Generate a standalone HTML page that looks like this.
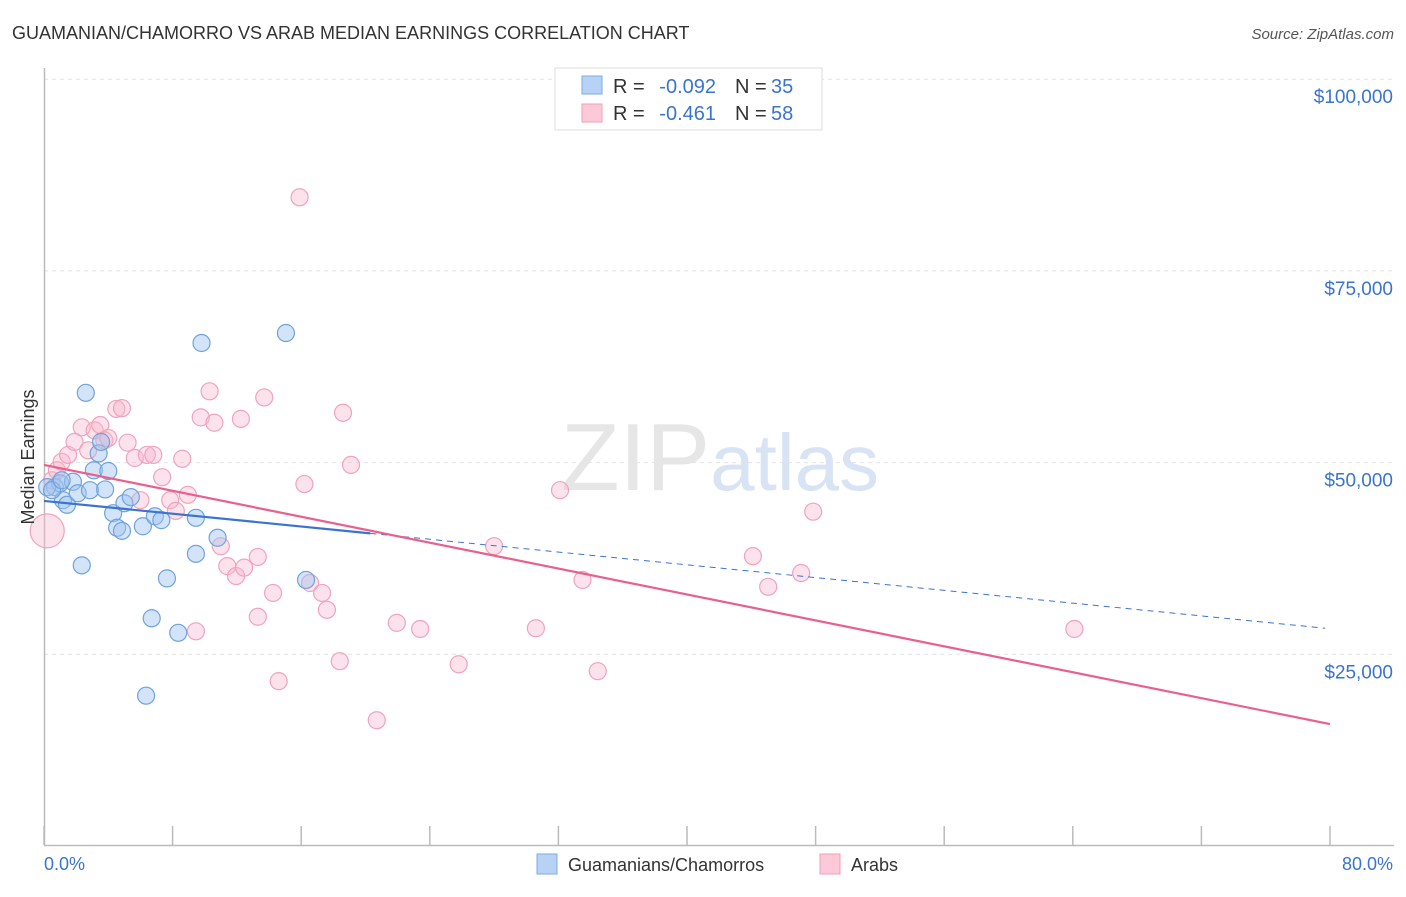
<!DOCTYPE html>
<html><head><meta charset="utf-8"><style>
body{margin:0;background:#fff;font-family:"Liberation Sans",sans-serif;}
svg text{font-family:"Liberation Sans",sans-serif;}
</style></head><body>
<svg id="chart" width="1406" height="892" viewBox="0 0 1406 892" xmlns="http://www.w3.org/2000/svg">
<text x="12" y="39" font-size="18" fill="#333">GUAMANIAN/CHAMORRO VS ARAB MEDIAN EARNINGS CORRELATION CHART</text>
<text x="1394" y="39" font-size="15" fill="#555" text-anchor="end" font-style="italic">Source: ZipAtlas.com</text>
<g id="grid"></g>
<text x="720" y="490" font-size="96" text-anchor="middle" fill="#e6e6e6" font-family="Liberation Serif">ZIP<tspan fill="#d8e4f4" font-family="Liberation Sans" font-size="80">atlas</tspan></text>
<line x1="44.5" y1="68" x2="44.5" y2="845" stroke="#bbb" stroke-width="1.5"/>
<line x1="44" y1="845.5" x2="1394" y2="845.5" stroke="#bbb" stroke-width="1.5"/>
<g id="ticks"></g>
<g id="marks"></g>
<text transform="translate(34,457) rotate(-90)" font-size="18" fill="#333" text-anchor="middle">Median Earnings</text>
<text x="44" y="870" font-size="18" fill="#3a74d0">0.0%</text>
<text x="1393" y="870" font-size="18" fill="#3a74d0" text-anchor="end">80.0%</text>
<g>
<rect x="555" y="68" width="267" height="62" fill="#fff" stroke="#ddd"/>
<rect x="582" y="76" width="20" height="18" fill="#b7d2f4" stroke="#7aaee0"/>
<rect x="582" y="104" width="20" height="18" fill="#fbc9d8" stroke="#f0a0b8"/>
<text x="613" y="93" font-size="20" fill="#333">R =</text>
<text x="716" y="93" font-size="20" fill="#3a74d0" text-anchor="end">-0.092</text>
<text x="735" y="93" font-size="20" fill="#333">N =</text>
<text x="771" y="93" font-size="20" fill="#3a74d0">35</text>
<text x="613" y="120" font-size="20" fill="#333">R =</text>
<text x="716" y="120" font-size="20" fill="#3a74d0" text-anchor="end">-0.461</text>
<text x="735" y="120" font-size="20" fill="#333">N =</text>
<text x="771" y="120" font-size="20" fill="#3a74d0">58</text>
</g>
<g>
<rect x="537" y="854" width="20" height="20" fill="#b7d2f4" stroke="#7aaee0"/>
<text x="568" y="871" font-size="18" fill="#333">Guamanians/Chamorros</text>
<rect x="820" y="854" width="20" height="20" fill="#fbc9d8" stroke="#f0a0b8"/>
<text x="851" y="871" font-size="18" fill="#333">Arabs</text>
</g>
</svg>
<script>
const yTicks=[25000,50000,75000,100000];
const yTickLabels=["$25,000","$50,000","$75,000","$100,000"];
const xTicks=[0,8,16,24,32,40,48,56,64,72,80];
const blueX=[0.68,1.0,1.18,1.43,1.8,2.1,2.6,2.86,3.1,3.4,3.55,3.8,4.0,4.3,4.55,4.85,5.0,5.4,6.15,6.7,6.9,7.3,7.65,8.35,6.35,9.45,9.45,9.8,10.8,15.05,16.3,0.2,0.5,2.35,1.1];
const blueY=[46800,47300,45100,44500,47500,46000,59100,46400,49000,51200,52700,46500,48900,43400,41500,41100,44700,45500,41700,29700,43000,42500,34900,27800,19600,42800,38100,65600,40200,66900,34700,46800,46400,36600,47700];
const pinkX=[0.2,0.5,0.8,1.1,1.5,1.9,2.35,2.75,3.15,3.5,3.75,4.0,4.5,4.85,5.2,5.65,6.0,6.4,6.8,7.35,7.85,8.2,8.6,8.95,9.45,9.75,10.3,10.6,11.0,11.4,11.95,12.25,12.45,13.3,13.7,13.3,14.25,14.6,16.2,16.55,17.3,17.6,18.4,18.6,19.1,20.7,21.95,23.4,25.8,28.0,30.6,32.1,33.5,34.45,15.9,44.1,45.05,47.1,47.85,64.1];
const pinkY=[41100,47700,49000,50100,51000,52700,54600,51600,54200,54900,52900,53200,57000,57100,52600,50600,45100,51000,51000,48100,45100,43700,50500,45800,28000,55900,59300,55200,39100,36500,35200,55700,36300,37700,58500,29900,33000,21500,47200,34300,33000,30800,24100,56500,49700,16400,29100,28300,23700,39100,28400,46400,34700,22800,84600,37800,33800,35600,43600,28300];
const blueTrend=[45000,28400];
const blueSolidEnd=20.3;
const pinkTrend=[49700,15900];
const NS="http://www.w3.org/2000/svg";
const xs=v=>44+v*16.075;
const ys=v=>846-v/25000*191.7;
function mk(tag,attrs,parent){const e=document.createElementNS(NS,tag);for(const k in attrs)e.setAttribute(k,attrs[k]);parent.appendChild(e);return e;}
const grid=document.getElementById('grid'),ticks=document.getElementById('ticks'),marks=document.getElementById('marks');
yTicks.forEach((t,i)=>{
  const l=mk('line',{x1:44,x2:1394,y1:ys(t),y2:ys(t),stroke:'#e2e2e2','stroke-dasharray':'4,4'},grid);
  
  
  const tx=mk('text',{x:1393,y:ys(t)+24,'font-size':19,fill:'#3a74d0','text-anchor':'end'},grid);
  tx.textContent=yTickLabels[i];
  
  
});
xTicks.forEach(t=>{
  const l=mk('line',{x1:xs(t),x2:xs(t),y1:826,y2:845,stroke:'#bbb','stroke-width':1.5},ticks);
  
  
});
pinkX.forEach((x,i)=>{
  const c=mk('circle',{cx:xs(x),cy:ys(pinkY[i]),r:i===0?17:8.5,fill:'rgba(248,182,202,0.4)',stroke:'#f0a4bc','stroke-width':1.2},marks);
  
  
});
blueX.forEach((x,i)=>{
  const c=mk('circle',{cx:xs(x),cy:ys(blueY[i]),r:8.5,fill:'rgba(160,196,240,0.45)',stroke:'#6fa3dd','stroke-width':1.2},marks);
  
  
});
const bAt=x=>blueTrend[0]+(blueTrend[1]-blueTrend[0])*x/79.7;
const b1=mk('line',{x1:xs(0),y1:ys(bAt(0)),x2:xs(blueSolidEnd),y2:ys(bAt(blueSolidEnd)),stroke:'#3a74d0','stroke-width':2.2},marks);


const b2=mk('line',{x1:xs(blueSolidEnd),y1:ys(bAt(blueSolidEnd)),x2:xs(79.7),y2:ys(bAt(79.7)),stroke:'#3a74d0','stroke-width':1,'stroke-dasharray':'6,5'},marks);


const p1=mk('line',{x1:xs(0),y1:ys(pinkTrend[0]),x2:xs(80),y2:ys(pinkTrend[1]),stroke:'#e8608e','stroke-width':2.2},marks);


</script>
</body></html>
